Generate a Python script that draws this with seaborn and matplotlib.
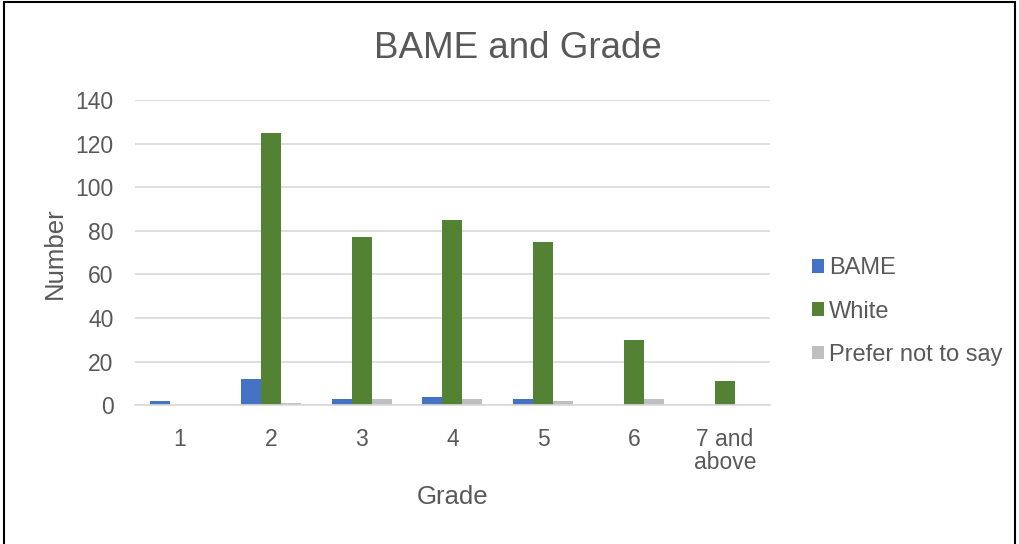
import matplotlib
matplotlib.use("Agg")
import matplotlib.pyplot as plt
import seaborn as sns
import pandas as pd
from matplotlib.patches import Rectangle

grades = ["1", "2", "3", "4", "5", "6", "7 and\nabove"]
bame = [2, 12, 3, 4, 3, 0, 0]
white = [0, 125, 77, 85, 75, 30, 11]
prefer_not = [0, 1, 3, 3, 2, 3, 0]
groups = ["BAME", "White", "Prefer not to say"]
colors = ["#4472C4", "#548235", "#BFBFBF"]

df = pd.DataFrame({
    "Grade": grades * 3,
    "Group": [groups[0]] * 7 + [groups[1]] * 7 + [groups[2]] * 7,
    "Number": bame + white + prefer_not,
})

sns.set_theme(style="white")
plt.rcParams["font.family"] = ["Liberation Sans", "DejaVu Sans"]
text_color = "#595959"

fig = plt.figure(figsize=(10.19, 5.44), dpi=100)
ax = fig.add_axes([0.132, 0.255, 0.624, 0.561])

sns.barplot(data=df, x="Grade", y="Number", hue="Group", hue_order=groups,
            palette=colors, width=0.66, gap=0, saturation=1, ax=ax,
            edgecolor="none", errorbar=None)

ax.set_ylim(0, 140)
ax.set_yticks(range(0, 141, 20))
ax.yaxis.grid(True, color="#D9D9D9", linewidth=1.2)
ax.set_axisbelow(True)
for side in ["top", "right", "left"]:
    ax.spines[side].set_visible(False)
ax.spines["bottom"].set_color("#D9D9D9")
ax.spines["bottom"].set_linewidth(1.2)
ax.tick_params(axis="both", length=0, labelsize=16.5, colors=text_color)
ax.tick_params(axis="x", pad=16)
ax.tick_params(axis="y", pad=15)
for lbl in ax.get_xticklabels():
    lbl.set_linespacing(1.05)

ax.set_xlabel("Grade", fontsize=18.5, color=text_color)
ax.set_ylabel("Number", fontsize=18.5, color=text_color)
ax.xaxis.set_label_coords(0.5, -0.302)
ax.xaxis.label.set_verticalalignment("center")
ax.yaxis.set_label_coords(-0.126, 0.5)
ax.yaxis.label.set_verticalalignment("center")

fig.text(0.508, 0.893, "BAME and Grade", fontsize=26.5, color=text_color,
         ha="center", va="baseline")

leg = ax.legend(loc="center left", bbox_to_anchor=(1.065, 0.307), frameon=False,
                fontsize=17, handlelength=0.52, handleheight=0.52,
                labelspacing=0.9, handletextpad=0.2, borderpad=0,
                borderaxespad=0)
for t in leg.get_texts():
    t.set_color(text_color)

# chart-area frame
fig.patches.append(Rectangle((0.004, -0.01), 0.992, 1.007, transform=fig.transFigure,
                             fill=False, edgecolor="black", linewidth=1.5))

fig.savefig("out.png", dpi=100)
